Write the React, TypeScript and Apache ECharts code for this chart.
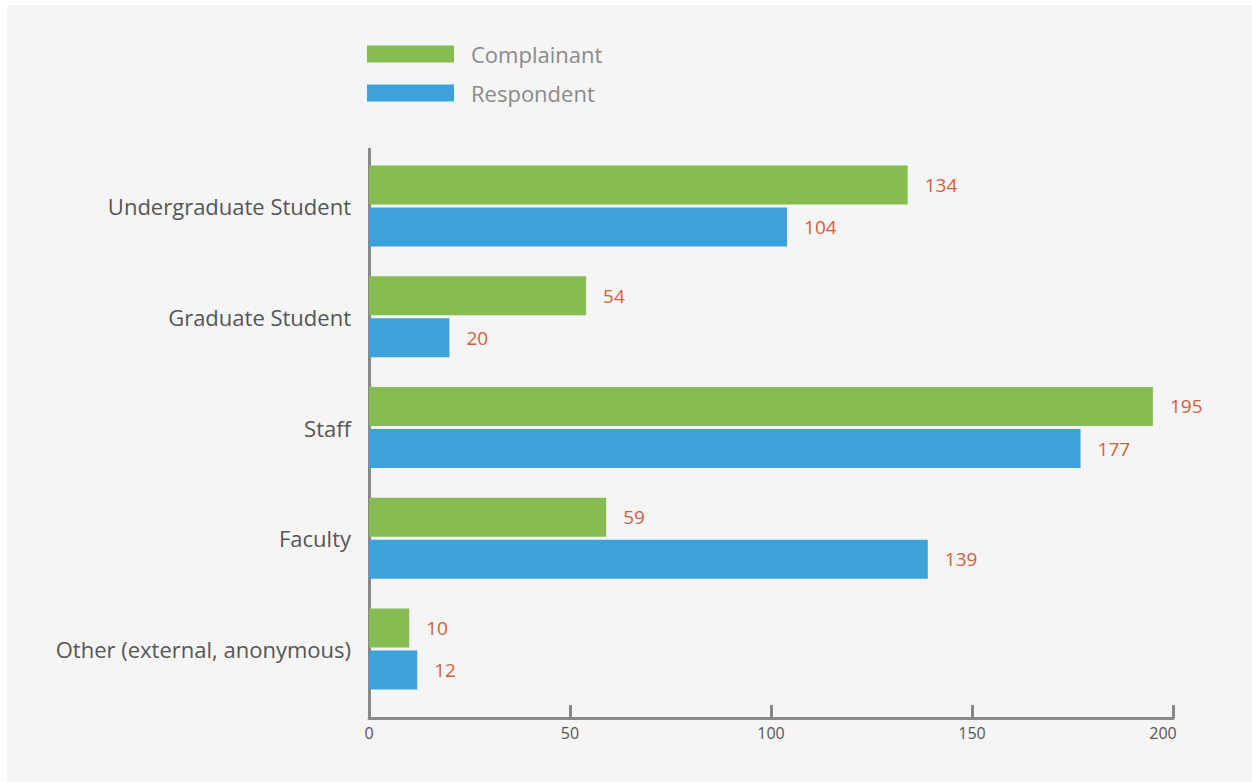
import React, { useEffect, useRef } from "react";
import * as echarts from "echarts";

const categories = [
  "Undergraduate Student",
  "Graduate Student",
  "Staff",
  "Faculty",
  "Other (external, anonymous)",
];
const complainant = [134, 54, 195, 59, 10];
const respondent = [104, 20, 177, 139, 12];
const xTicks = [0, 50, 100, 150, 200];

const FONT = "'Open Sans', 'Noto Sans', sans-serif";
const AXIS = "#888";

export default function App() {
  const ref = useRef<HTMLDivElement>(null);
  useEffect(() => {
    if (!ref.current) return;
    const chart = echarts.init(ref.current, undefined, { renderer: "svg" });
    const xMin = xTicks[0];
    const xMax = xTicks[xTicks.length - 1];
    const labelStyle = {
      show: true,
      position: "right",
      distance: 17,
      fontFamily: FONT,
      fontSize: 19,
      color: "#d4603a",
    };
    chart.setOption({
      animation: false,
      backgroundColor: "#f5f5f5",
      textStyle: { fontFamily: FONT },
      legend: {
        orient: "vertical",
        left: 360,
        top: 38,
        padding: 0,
        icon: "rect",
        itemWidth: 87,
        itemHeight: 17,
        itemGap: 17,
        data: ["Complainant", "Respondent"],
        textStyle: {
          fontFamily: FONT,
          fontSize: 22,
          color: "#8a8a8a",
          padding: [0, 0, 0, 12],
        },
      },
      grid: [
        { left: 362, top: 144, width: 804, height: 569 },
        { left: 362, top: 145.6, width: 804, height: 553.8 },
      ],
      xAxis: [
        {
          type: "value",
          gridIndex: 0,
          min: xMin,
          max: xMax,
          interval: 50,
          splitLine: { show: false },
          axisLine: { show: true, lineStyle: { color: AXIS, width: 3 } },
          axisTick: { show: true, inside: true, length: 13, lineStyle: { color: AXIS, width: 3 } },
          axisLabel: {
            fontFamily: FONT,
            fontSize: 16,
            color: "#555",
            margin: 7,
            formatter: (v: number) => (v === xMax ? `{last|${v}}` : `${v}`),
            rich: { last: { fontFamily: FONT, fontSize: 16, color: "#555", padding: [0, 20, 0, 0] } },
          },
        },
        {
          type: "value",
          gridIndex: 1,
          min: xMin,
          max: xMax,
          show: false,
        },
      ],
      yAxis: [
        {
          type: "value",
          gridIndex: 0,
          axisLine: { show: true, lineStyle: { color: AXIS, width: 3 } },
          axisTick: { show: false },
          axisLabel: { show: false },
          splitLine: { show: false },
        },
        {
          type: "category",
          gridIndex: 1,
          inverse: true,
          data: categories,
          axisLine: { show: false },
          axisTick: { show: false },
          axisLabel: { fontFamily: FONT, fontSize: 22, color: "#555", margin: 18 },
        },
      ],
      series: [
        {
          name: "Complainant",
          type: "bar",
          xAxisIndex: 1,
          yAxisIndex: 1,
          data: complainant,
          barWidth: 39,
          barGap: "8%",
          itemStyle: { color: "#86bc51" },
          label: labelStyle,
        },
        {
          name: "Respondent",
          type: "bar",
          xAxisIndex: 1,
          yAxisIndex: 1,
          data: respondent,
          barWidth: 39,
          barGap: "8%",
          itemStyle: { color: "#3ea2da" },
          label: labelStyle,
        },
      ],
    });
    return () => chart.dispose();
  }, []);
  return (
    <div style={{ position: "fixed", left: 0, top: 0, width: 1252, height: 782, background: "#fff" }}>
      <div ref={ref} style={{ position: "absolute", left: 7, top: 5, width: 1245, height: 777 }} />
    </div>
  );
}
